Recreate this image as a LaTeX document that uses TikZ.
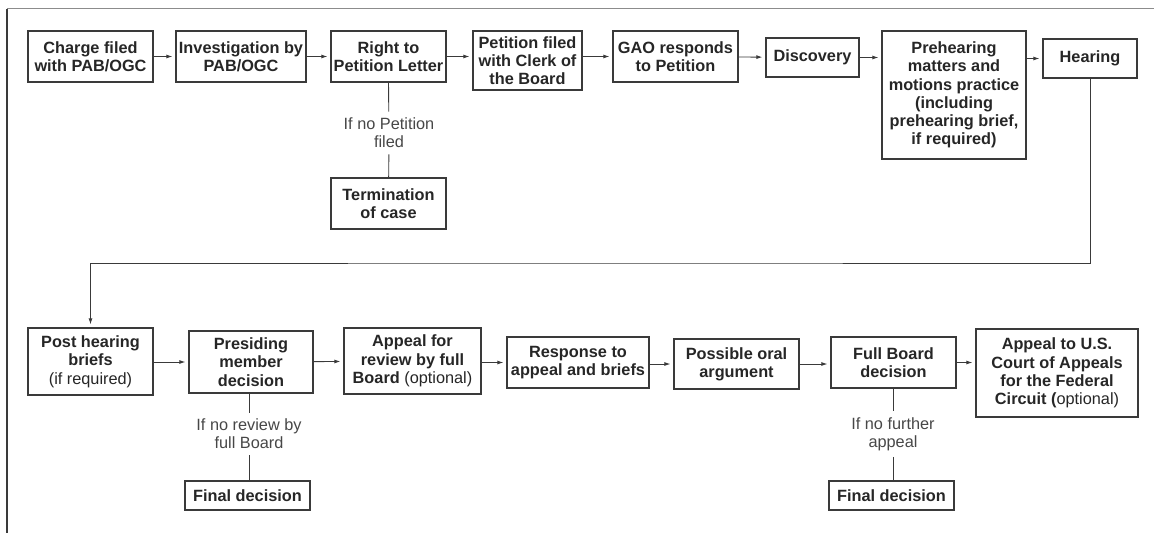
\documentclass[tikz,border=0pt]{standalone}
\usepackage{fontspec}
\setmainfont{Liberation Sans}
\usetikzlibrary{positioning, arrows.meta, calc}
\definecolor{ink}{HTML}{3A3A3A}

\begin{document}
\begin{tikzpicture}[
    x=1pt, y=-1pt,
    >={Latex[length=6pt, width=4pt]},
    every node/.style = {font=\fontsize{16.3}{18.3}\selectfont, text=black!85},
    stage/.style      = {rectangle, draw=ink, line width=1.2pt, align=center,
                         inner sep=2pt, font=\fontsize{16.3}{18.3}\selectfont\bfseries},
    cond/.style       = {align=center, text=black!72, inner xsep=2pt, inner ysep=6pt},
    line/.style       = {->, draw=ink, line width=0.9pt, shorten >=3pt},
    link/.style       = {draw=ink, line width=0.9pt}
]
\useasboundingbox (0,0) rectangle (1154,533);

% Frame
\draw[black!45, line width=1pt] (7,8.5) -- (1154,8.5);
\draw[ink, line width=1.2pt] (7,8.5) -- (7,533);

% First row
\node[stage, minimum width=125pt, minimum height=51pt]  (charge)   at (90.5,56.5)  {Charge filed\\with PAB/OGC};
\node[stage, minimum width=130pt, minimum height=51pt]  (invest)   at (241,56.5)   {Investigation by\\PAB/OGC};
\node[stage, minimum width=115pt, minimum height=51pt]  (letter)   at (388.5,56.5) {Right to\\Petition Letter};
\node[stage, minimum width=109pt, minimum height=59pt]  (petition) at (527.5,60.5) {Petition filed\\with Clerk of\\the Board};
\node[stage, minimum width=125pt, minimum height=51pt]  (gao)      at (675.5,56.5) {GAO responds\\to Petition};
\node[stage, minimum width=93pt,  minimum height=39pt]  (disc)     at (812.5,57.5) {Discovery};
\node[stage, minimum width=144pt, minimum height=128pt] (preh)     at (954,95)     {Prehearing\\matters and\\motions practice\\(including\\prehearing brief,\\if required)};
\node[stage, minimum width=94pt,  minimum height=39pt]  (hearing)  at (1090,58.5)  {Hearing};

\draw[line] (charge) -- (invest);
\draw[line] (invest) -- (letter);
\draw[line] (letter.east) -- (letter.east -| petition.west);
\draw[line] (gao.west -| petition.east) -- (gao.west);
\draw[line] (gao) -- (disc);
\draw[line] (disc.east) -- (disc.east -| preh.west);
\draw[line] (hearing.west -| preh.east) -- (hearing.west);

% No petition branch
\node[cond] (nopet) at (389,133) {If no Petition\\filed};
\node[stage, minimum width=115pt, minimum height=51pt] (term) at (388.5,203.5) {Termination\\of case};
\draw[link] (letter.south) -- (nopet);
\draw[link] (nopet) -- (term);

% Second row
\node[stage, minimum width=125pt, minimum height=67pt] (post)   at (90.5,361.5) {Post hearing\\briefs\\\textmd{(if required)}};
\node[stage, minimum width=124pt, minimum height=62pt] (presid) at (251,362)    {Presiding\\member\\decision};
\node[stage, minimum width=137pt, minimum height=66pt] (appeal) at (412.5,361)  {Appeal for\\review by full\\Board \textmd{(optional)}};
\node[stage, minimum width=142pt, minimum height=51pt] (resp)   at (578,362.5)  {Response to\\appeal and briefs};
\node[stage, minimum width=125pt, minimum height=50pt] (oral)   at (736.5,364)  {Possible oral\\argument};
\node[stage, minimum width=125pt, minimum height=51pt] (full)   at (893.5,362.5) {Full Board\\decision};
\node[stage, minimum width=162pt, minimum height=88pt] (court)  at (1057,373)   {Appeal to U.S.\\Court of Appeals\\for the Federal\\Circuit (\textmd{optional)}};

% Hearing down to second row
\coordinate (loop) at (600,263);
\draw[line] (hearing.south) |- (loop) -| (post.north);

\draw[line] (post.east |- presid.east) -- (presid.west);
\draw[line] (presid) -- (appeal);
\draw[line] (appeal.east |- resp.east) -- (resp.west);
\draw[line] (resp.east |- oral.west) -- (oral.west);
\draw[line] (oral.east) -- (oral.east -| full.west);
\draw[line] (full.east) -- (full.east -| court.west);

% Final decision branches
\node[cond] (noreview) at (249,434) {If no review by\\full Board};
\node[stage, minimum width=125pt, minimum height=29pt] (final1) at (247.5,495.5) {Final decision};
\draw[link] (presid.south -| noreview) -- (noreview);
\draw[link] (noreview) -- (noreview |- final1.north);

\node[cond] (nofurther) at (893,434) {If no further\\appeal};
\node[stage, minimum width=125pt, minimum height=29pt] (final2) at (891.5,495.5) {Final decision};
\draw[link] (full.south -| nofurther) -- (nofurther);
\draw[link] (nofurther) -- (nofurther |- final2.north);

\end{tikzpicture}
\end{document}
